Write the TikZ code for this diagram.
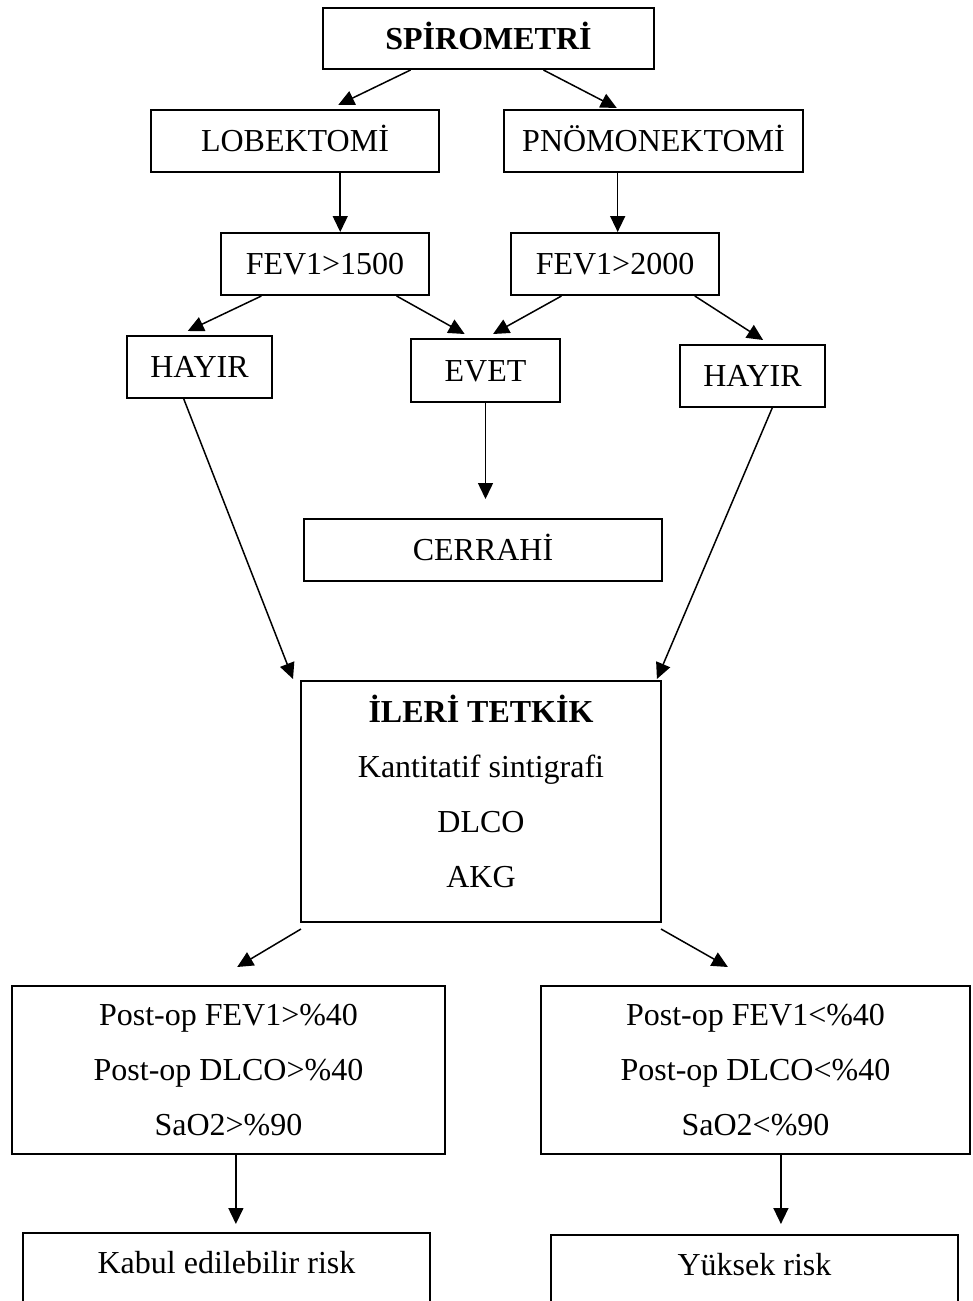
\documentclass[tikz,border=0pt]{standalone}
\usepackage{fontspec}
\setmainfont{Liberation Serif}
\usetikzlibrary{arrows.meta,calc}
\begin{document}
\begin{tikzpicture}[x=1pt,y=-1pt,
  box/.style={draw, line width=2pt, inner sep=0pt, align=center, font=\fontsize{32}{55}\selectfont},
  one/.style={box, text height=21.5pt, text depth=0pt},
  arr/.style={line width=1.5pt, -{Triangle[length=16pt,width=15pt]}}]
\clip (0,0) rectangle (972,1301);
\fill[white] (0,0) rectangle (972,1301);

\node[one, minimum width=331pt, minimum height=61pt] (spiro) at (488.5,38.5) {\bfseries SPİROMETRİ};
\node[one, minimum width=288pt, minimum height=62pt] (lob) at (295,141) {LOBEKTOMİ};
\node[one, minimum width=299pt, minimum height=62pt] (pno) at (653.5,141) {PNÖMONEKTOMİ};
\node[one, minimum width=208pt, minimum height=62pt] (f1500) at (325,264) {FEV1>1500};
\node[one, minimum width=208pt, minimum height=62pt] (f2000) at (615,264) {FEV1>2000};
\node[one, minimum width=145pt, minimum height=62pt] (hay1) at (199.5,367) {HAYIR};
\node[one, minimum width=149pt, minimum height=63pt] (evet) at (485.5,370.5) {EVET};
\node[one, minimum width=145pt, minimum height=62pt] (hay2) at (752.5,376) {HAYIR};
\node[one, minimum width=358pt, minimum height=62pt] (cerr) at (483,550) {CERRAHİ};
\node[box, minimum width=360pt, minimum height=241pt, text depth=20pt] (ileri) at (481,801.5)
  {\textbf{İLERİ TETKİK}\\Kantitatif sintigrafi\\DLCO\\AKG};
\node[box, minimum width=433pt, minimum height=168pt] (post1) at (228.5,1070)
  {Post-op FEV1>\%40\\Post-op DLCO>\%40\\SaO2>\%90};
\node[box, minimum width=429pt, minimum height=168pt] (post2) at (755.5,1070)
  {Post-op FEV1<\%40\\Post-op DLCO<\%40\\SaO2<\%90};
\node[box, minimum width=407pt, text height=40pt, text depth=80pt, anchor=base] (kabul) at (226.5,1273) {Kabul edilebilir risk};
\node[box, minimum width=407pt, text height=40pt, text depth=80pt, anchor=base] (yuk) at (754.5,1275) {Yüksek risk};

\draw[arr] ($(spiro.south west)!0.266!(spiro.south east)$) -- ($(lob.north west)!0.649!(lob.north east)+(0,-4)$);
\draw[arr] ($(spiro.south west)!0.665!(spiro.south east)$) -- ($(pno.north west)!0.378!(pno.north east)+(0,-1)$);
\draw[arr] ($(lob.south west)!0.656!(lob.south east)$) coordinate (t1) -- (t1 |- f1500.north);
\draw[arr] ($(pno.south west)!0.381!(pno.south east)$) coordinate (t2) -- (t2 |- f2000.north);
\draw[arr] ($(f1500.south west)!0.197!(f1500.south east)$) -- ($(hay1.north west)!0.42!(hay1.north east)+(0,-4)$);
\draw[arr] ($(f1500.south west)!0.841!(f1500.south east)$) -- ($(evet.north west)!0.362!(evet.north east)+(0,-4)$);
\draw[arr] ($(f2000.south west)!0.245!(f2000.south east)$) -- ($(evet.north west)!0.55!(evet.north east)+(0,-4)$);
\draw[arr] ($(f2000.south west)!0.88!(f2000.south east)$) -- ($(hay2.north west)!0.572!(hay2.north east)+(0,-4)$);
\draw[arr] (evet.south) -- ($(evet.south |- cerr.north)+(0,-19)$);
\draw[arr] ($(hay1.south west)!0.393!(hay1.south east)$) -- ($(ileri.north west)+(-7,-1)$);
\draw[arr] ($(hay2.south west)!0.634!(hay2.south east)$) -- ($(ileri.north west)!0.986!(ileri.north east)+(0,-1)$);
\draw[arr] ($(ileri.south west)+(1,6)$) -- ($(post1.north west)!0.52!(post1.north east)+(0,-18)$);
\draw[arr] ($(ileri.south east)+(-1,6)$) -- ($(post2.north west)!0.436!(post2.north east)+(0,-18)$);
\draw[arr] ($(post1.south west)!0.517!(post1.south east)$) coordinate (t3) -- ($(t3 |- kabul.north)+(0,-8)$);
\draw[arr] ($(post2.south west)!0.559!(post2.south east)$) coordinate (t4) -- ($(t4 |- yuk.north)+(0,-10)$);
\end{tikzpicture}
\end{document}
